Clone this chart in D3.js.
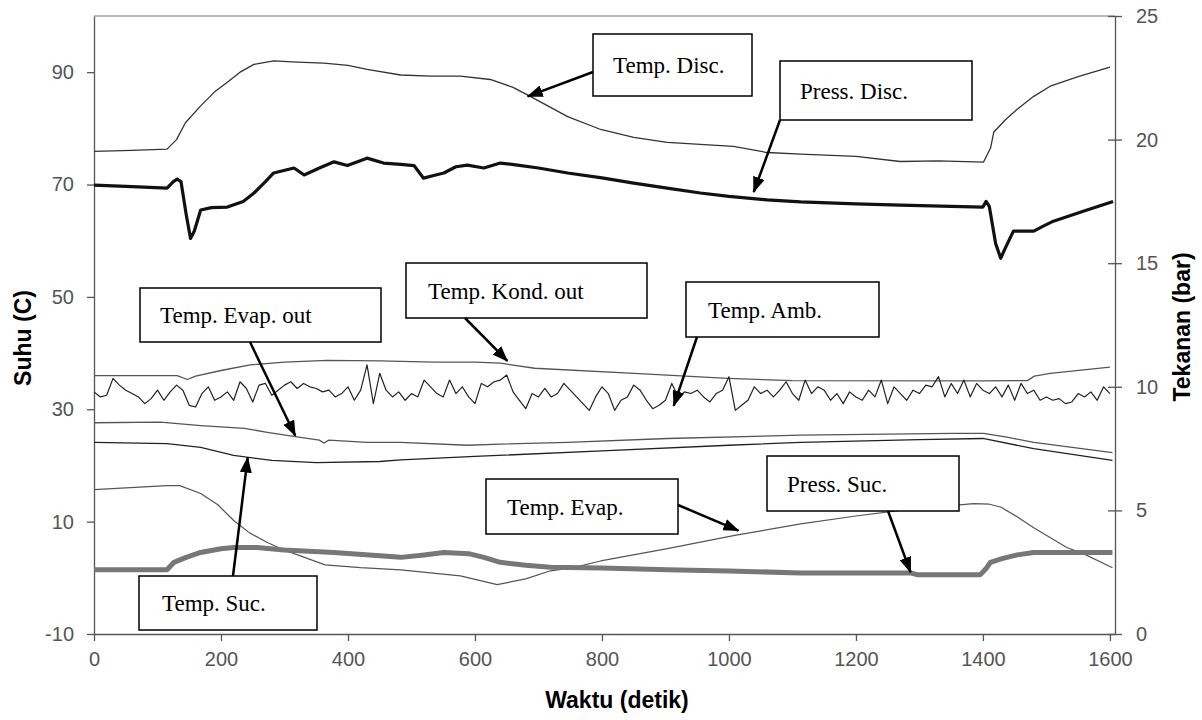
<!DOCTYPE html>
<html>
<head>
<meta charset="utf-8">
<script src="https://cdn.jsdelivr.net/npm/d3@7"></script>
<style>
  body { margin: 0; background: #fff; }
  .tick text { font-family: "Liberation Sans", Arial, sans-serif; fill: #555; }
  .title { font-family: "Liberation Sans", Arial, sans-serif; font-weight: bold; font-size: 23px; fill: #000; }
  .note text { font-family: "Liberation Serif", "Times New Roman", serif; font-size: 23px; fill: #000; }
</style>
</head>
<body>
<script>
// waktu (detik) vs nilai
var tempDisc = [[0,75.9],[60,76.1],[115,76.3],[130,78],[144,81],[168,84],[190,86.5],[210,88.2],[230,90],[252,91.4],[283,92],[320,91.8],[362,91.6],[400,91.2],[430,90.5],[483,89.5],[530,89.3],[577,89.3],[624,88.7],[660,87.3],[687,85.7],[746,82.1],[798,79.8],[850,78.4],[903,77.5],[1007,76.8],[1060,75.7],[1113,75.4],[1200,75],[1270,74.1],[1330,74.2],[1401,74],[1412,76.5],[1417,79.3],[1435,81.5],[1454,83.4],[1480,85.7],[1506,87.5],[1550,89.2],[1600,90.9]];

var pressDisc = [[0,18.16],[60,18.1],[115,18.04],[125,18.3],[131,18.4],[137,18.3],[145,17.0],[152,16.0],[158,16.3],[168,17.15],[185,17.25],[210,17.27],[235,17.5],[252,17.84],[270,18.3],[283,18.65],[315,18.85],[331,18.57],[355,18.85],[378,19.1],[399,18.95],[430,19.25],[456,19.05],[483,19.0],[504,18.95],[519,18.44],[535,18.55],[551,18.65],[570,18.9],[588,18.97],[614,18.85],[640,19.05],[667,18.97],[700,18.85],[746,18.65],[800,18.45],[850,18.24],[900,18.05],[955,17.84],[1000,17.7],[1060,17.56],[1113,17.48],[1200,17.4],[1270,17.35],[1350,17.3],[1400,17.27],[1405,17.5],[1410,17.3],[1420,15.8],[1428,15.2],[1435,15.6],[1448,16.3],[1480,16.3],[1495,16.5],[1511,16.7],[1558,17.1],[1605,17.5]];

var kondOut = [[0,36],[131,36],[147,35.3],[160,35.9],[200,36.9],[246,37.9],[300,38.4],[367,38.7],[450,38.6],[536,38.4],[600,38.4],[640,38.2],[694,37.3],[851,36.4],[998,35.5],[1100,35.1],[1400,35.05],[1470,35.1],[1481,35.9],[1506,36.4],[1600,37.5]];

// Temp. Amb. every 10 s from 0 to 1600
var ambStep = 10;
var ambVals = [33.1,32.2,32.5,35.5,34.3,33.4,32.8,32.2,31.0,31.9,33.4,31.6,33.1,34.3,33.4,30.7,30.4,32.8,34.0,31.6,32.2,33.1,31.6,34.9,33.7,31.3,34.3,34.6,32.5,33.4,34.3,34.9,33.7,34.6,34.0,33.7,33.1,33.4,32.2,32.8,34.0,31.6,33.4,37.9,31.0,36.4,33.4,32.2,33.1,31.6,32.8,32.2,35.2,34.0,
  32.8,32.2,35.2,32.8,34.0,32.2,31.0,34.6,34.0,34.9,35.2,36.1,33.1,31.6,30.1,32.8,32.2,33.7,32.2,32.8,34.6,33.4,32.2,31.0,29.8,32.2,34.0,32.8,29.8,31.6,32.2,34.3,33.4,31.6,30.1,30.7,31.6,34.6,32.2,33.1,32.8,33.4,32.2,31.3,32.8,33.4,35.8,29.8,30.7,31.6,34.0,32.8,33.4,32.2,
  33.4,34.9,32.8,31.6,35.2,32.8,34.0,33.4,31.6,32.8,31.0,33.1,32.2,31.6,33.4,32.2,35.2,31.0,34.0,32.8,31.6,33.4,32.8,34.3,34.0,35.8,32.2,34.6,32.8,35.2,32.2,34.6,33.4,32.8,34.0,32.2,34.3,31.6,34.6,32.8,33.4,31.6,32.2,31.6,31.9,31.0,31.3,32.8,32.2,33.1,31.6,34.0,32.8];

var evapOut = [[0,27.6],[105,27.7],[168,27.1],[237,26.6],[273,25.9],[325,25.0],[355,24.5],[362,24.0],[370,24.5],[430,24.1],[483,24.1],[588,23.6],[640,23.8],[746,24.1],[903,24.8],[1113,25.4],[1354,25.7],[1401,25.7],[1440,25.0],[1480,24.1],[1604,22.3]];

var tempSuc = [[0,24.1],[115,23.9],[168,23.2],[220,21.8],[280,20.9],[350,20.5],[450,20.7],[483,21.0],[600,21.6],[800,22.6],[1000,23.6],[1113,24.1],[1300,24.6],[1400,24.8],[1480,23.0],[1604,20.9]];

var tempEvap = [[0,15.7],[115,16.4],[135,16.4],[168,15],[195,13],[220,10.2],[245,8],[273,6.3],[300,4.9],[325,3.9],[364,2.3],[420,1.8],[483,1.4],[577,0.36],[635,-1.2],[680,-0.2],[719,1.25],[755,1.8],[798,3.0],[903,5.2],[1007,7.5],[1113,9.6],[1200,11],[1270,12],[1385,13.2],[1410,13.1],[1428,12.6],[1455,10.8],[1480,8.9],[1532,5.4],[1558,4.3],[1604,1.8]];

var pressSuc = [[0,2.6],[115,2.6],[126,2.9],[145,3.1],[168,3.3],[200,3.45],[220,3.5],[257,3.5],[299,3.4],[378,3.3],[483,3.1],[520,3.2],[551,3.3],[590,3.25],[614,3.1],[640,2.9],[680,2.78],[719,2.7],[800,2.67],[903,2.6],[1000,2.55],[1113,2.47],[1286,2.47],[1296,2.4],[1396,2.4],[1405,2.65],[1412,2.9],[1430,3.05],[1454,3.2],[1480,3.3],[1604,3.3]];

var xTicks = [0,200,400,600,800,1000,1200,1400,1600];
var leftTicks = [-10,10,30,50,70,90];
var rightTicks = [0,5,10,15,20,25];

// label, box [x,y,w,h] in px, text offset, arrow start px, tip [t, value, axis]
var notes = [
  {label: "Temp. Disc.", box: [593,34,159,62], tx: 20, start: [593,72], tip: [683,85.7,"L"]},
  {label: "Press. Disc.", box: [780,61,192,59], tx: 20, start: [780,120], tip: [1039,17.88,"R"]},
  {label: "Temp. Kond. out", box: [406,263,241,55], tx: 22, start: [465,318], tip: [651,38.6,"L"]},
  {label: "Temp. Amb.", box: [686,282,193,55], tx: 22, start: [697,337], tip: [913,30.6,"L"]},
  {label: "Temp. Evap. out", box: [140,288,241,54], tx: 20, start: [250,342], tip: [317,25.3,"L"]},
  {label: "Temp. Suc.", box: [139,576,178,54], tx: 23, start: [233,576], tip: [242,21.4,"L"]},
  {label: "Temp. Evap.", box: [486,479,192,55], tx: 21, start: [678,505], tip: [1015,8.4,"L"]},
  {label: "Press. Suc.", box: [767,456,192,55], tx: 20, start: [888,511], tip: [1286,2.5,"R"]}
];

var width = 1202, height = 720;
var svg = d3.select("body").append("svg")
    .attr("width", width)
    .attr("height", height);

var x = d3.scaleLinear().domain([0, 1608]).range([94, 1115]);
var yL = d3.scaleLinear().domain([-10, 100]).range([634, 16]);
var yR = d3.scaleLinear().domain([0, 25]).range([634, 16]);

svg.append("defs").append("marker")
    .attr("id", "head")
    .attr("markerUnits", "userSpaceOnUse")
    .attr("viewBox", "0 0 16 12")
    .attr("refX", 15).attr("refY", 6)
    .attr("markerWidth", 16).attr("markerHeight", 12)
    .attr("orient", "auto")
  .append("path")
    .attr("d", "M0,0L16,6L0,12Z")
    .attr("fill", "#000");

// frame top
svg.append("line")
    .attr("x1", 94).attr("x2", 1115).attr("y1", 16).attr("y2", 16)
    .attr("stroke", "#777").attr("stroke-width", 1.2);

var fmt = function(d) { return String(d); };

var gx = svg.append("g")
    .attr("transform", "translate(0,634)")
    .call(d3.axisBottom(x).tickValues(xTicks).tickSize(7).tickSizeOuter(0).tickPadding(11).tickFormat(fmt));
gx.selectAll("text").attr("font-size", 20);

var gl = svg.append("g")
    .attr("transform", "translate(94,0)")
    .call(d3.axisLeft(yL).tickValues(leftTicks).tickSize(7).tickSizeOuter(0).tickPadding(13).tickFormat(fmt));
gl.selectAll("text").attr("font-size", 20);

var gr = svg.append("g")
    .attr("transform", "translate(1115,0)")
    .call(d3.axisRight(yR).tickValues(rightTicks).tickSize(7).tickSizeOuter(0).tickPadding(14).tickFormat(fmt));
gr.selectAll("text").attr("font-size", 20);
gr.selectAll(".tick line").attr("x1", -7);

svg.selectAll(".domain").attr("stroke", "#555").attr("stroke-width", 1.3);
svg.selectAll(".tick line").attr("stroke", "#555").attr("stroke-width", 1.3);

var lineL = d3.line().x(function(d) { return x(d[0]); }).y(function(d) { return yL(d[1]); });
var lineR = d3.line().x(function(d) { return x(d[0]); }).y(function(d) { return yR(d[1]); });

var amb = ambVals.map(function(v, i) { return [i * ambStep, v]; });

var series = [
  {data: tempEvap, line: lineL, color: "#555", w: 1.2},
  {data: tempSuc, line: lineL, color: "#222", w: 1.3},
  {data: evapOut, line: lineL, color: "#555", w: 1.3},
  {data: kondOut, line: lineL, color: "#555", w: 1.3},
  {data: amb, line: lineL, color: "#222", w: 1.2},
  {data: tempDisc, line: lineL, color: "#333", w: 1.3},
  {data: pressSuc, line: lineR, color: "#777", w: 5},
  {data: pressDisc, line: lineR, color: "#111", w: 3.2}
];

svg.append("g").selectAll("path")
    .data(series)
    .enter().append("path")
      .attr("d", function(d) { return d.line(d.data); })
      .attr("fill", "none")
      .attr("stroke", function(d) { return d.color; })
      .attr("stroke-width", function(d) { return d.w; })
      .attr("stroke-linejoin", "round");

var note = svg.append("g").attr("class", "note")
    .selectAll("g")
    .data(notes)
    .enter().append("g");

note.append("rect")
    .attr("x", function(d) { return d.box[0]; })
    .attr("y", function(d) { return d.box[1]; })
    .attr("width", function(d) { return d.box[2]; })
    .attr("height", function(d) { return d.box[3]; })
    .attr("fill", "#fff")
    .attr("stroke", "#000")
    .attr("stroke-width", 1.5);

note.append("text")
    .attr("x", function(d) { return d.box[0] + d.tx; })
    .attr("y", function(d) { return d.box[1] + d.box[3] / 2 + 8; })
    .text(function(d) { return d.label; });

note.append("line")
    .attr("x1", function(d) { return d.start[0]; })
    .attr("y1", function(d) { return d.start[1]; })
    .attr("x2", function(d) { return x(d.tip[0]); })
    .attr("y2", function(d) { return d.tip[2] == "L" ? yL(d.tip[1]) : yR(d.tip[1]); })
    .attr("stroke", "#000")
    .attr("stroke-width", 2.5)
    .attr("marker-end", "url(#head)");

svg.append("text").attr("class", "title")
    .attr("text-anchor", "middle")
    .attr("transform", "translate(31,338) rotate(-90)")
    .text("Suhu (C)");

svg.append("text").attr("class", "title")
    .attr("text-anchor", "middle")
    .attr("transform", "translate(1190,327) rotate(-90)")
    .text("Tekanan (bar)");

svg.append("text").attr("class", "title")
    .attr("text-anchor", "middle")
    .attr("x", 617).attr("y", 708)
    .text("Waktu (detik)");
</script>
</body>
</html>
